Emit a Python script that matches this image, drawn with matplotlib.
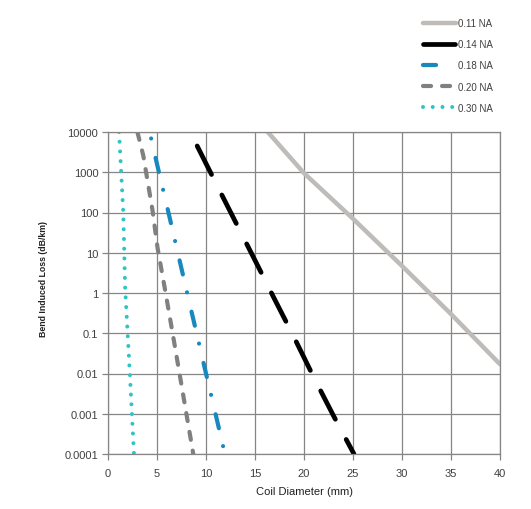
import matplotlib
matplotlib.use("Agg")
import matplotlib.pyplot as plt
from matplotlib.lines import Line2D
from matplotlib.ticker import FixedLocator, NullLocator

plt.rcParams['font.family'] = ['Liberation Sans', 'DejaVu Sans']
plt.rcParams['lines.scale_dashes'] = False

# ---- data ----
series_labels = ['0.11 NA', '0.14 NA', '0.18 NA', '0.20 NA', '0.30 NA']

na011_diam = [16.3, 20, 25, 30, 35, 40]
na011_loss = [10000, 950, 70, 4.7, 0.3, 0.017]

na014_diam = [9.1, 11, 13, 15, 17, 19, 21, 23, 25.1]
na014_loss = [4500, 540, 59, 6.5, 0.7, 0.078, 0.008, 0.0009, 0.0001]

na018_diam = [4.4, 5, 6, 7, 8, 9, 10, 11, 11.85]
na018_loss = [6900, 1600, 150, 13.5, 1.2, 0.11, 0.01, 0.00093, 0.00012]

na020_diam = [3.0, 3.6, 4.55, 5.06, 5.85, 6.6, 7.48, 8.7]
na020_loss = [10000, 2600, 110, 13, 1.1, 0.098, 0.0055, 0.0001]

na030_diam = [1.13, 1.56, 1.75, 2.24, 2.65]
na030_loss = [10000, 98, 1.3, 0.0089, 0.0001]

x_ticks = [0, 5, 10, 15, 20, 25, 30, 35, 40]
y_ticks = [0.0001, 0.001, 0.01, 0.1, 1, 10, 100, 1000, 10000]
y_tick_labels = ['0.0001', '0.001', '0.01', '0.1', '1', '10', '100', '1000', '10000']

# ---- figure ----
fig = plt.figure(figsize=(5.31, 5.10), dpi=100)
ax = fig.add_axes([108/531, 1 - 455/510, (500-108)/531, (455-133)/510])

grid_c = '#868686'
text_c = '#404040'

c011, c014, c018, c020, c030 = '#BFBBB8', '#000000', '#1789BE', '#808080', '#2EC4C4'

l1, = ax.plot(na011_diam, na011_loss, color=c011, lw=3.2,
              solid_capstyle='round')
l2, = ax.plot(na014_diam, na014_loss, color=c014, lw=3.4,
              dash_capstyle='round')
l2.set_dashes((23, 16.5))
l3, = ax.plot(na018_diam, na018_loss, color=c018, lw=3.0,
              dash_capstyle='round')
l3.set_dashes((0.01, 14.3, 10.4, 13.2))
l4, = ax.plot(na020_diam, na020_loss, color=c020, lw=3.0,
              dash_capstyle='round')
l4.set_dashes((5.8, 7.9))
l5, = ax.plot(na030_diam, na030_loss, color=c030, lw=2.9,
              dash_capstyle='round')
l5.set_dashes((0.01, 7.0))

ax.set_xlim(0, 40)
ax.set_yscale('log')
ax.set_ylim(0.0001, 10000)
ax.xaxis.set_major_locator(FixedLocator(x_ticks))
ax.set_xticklabels([str(v) for v in x_ticks])
ax.yaxis.set_major_locator(FixedLocator(y_ticks))
ax.yaxis.set_minor_locator(NullLocator())
ax.set_yticklabels(y_tick_labels)

ax.grid(True, color=grid_c, lw=0.9)
ax.set_axisbelow(True)
for s in ax.spines.values():
    s.set_color(grid_c)
    s.set_linewidth(0.9)
ax.tick_params(axis='both', direction='out', length=4, width=0.9, color=grid_c,
               labelsize=8, labelcolor=text_c, pad=3)
ax.tick_params(axis='x', pad=6)

ax.set_xlabel('Coil Diameter (mm)', fontsize=8, color='#202020', labelpad=6)
ax.set_ylabel('Bend Induced Loss (dB/km)', fontsize=6.3, fontweight='bold',
              color='#202020')
ax.yaxis.set_label_coords((48 - 108) / 392, (455 - 279) / 322)

# legend proxies (same styles as the plotted lines)
h1 = Line2D([], [], color=c011, lw=3.2, solid_capstyle='round')
h2 = Line2D([], [], color=c014, lw=3.4, dash_capstyle='round')
h2.set_dashes((23, 16.5))
h3 = Line2D([], [], color=c018, lw=3.0, dash_capstyle='round')
h3.set_dashes((9.4, 40))
h4 = Line2D([], [], color=c020, lw=3.0, dash_capstyle='round')
h4.set_dashes((5.8, 7.9))
h5 = Line2D([], [], color=c030, lw=2.9, dash_capstyle='round')
h5.set_dashes((0.01, 7.0))

leg = fig.legend(handles=[h1, h2, h3, h4, h5], labels=series_labels,
                 loc='upper left',
                 bbox_to_anchor=(423/531, 1 - 19/510), frameon=False,
                 fontsize=7, handlelength=3.4, handletextpad=0.2,
                 labelspacing=1.15, borderpad=0, borderaxespad=0)
for t in leg.get_texts():
    t.set_color(text_c)

fig.savefig('out.png', dpi=100)
